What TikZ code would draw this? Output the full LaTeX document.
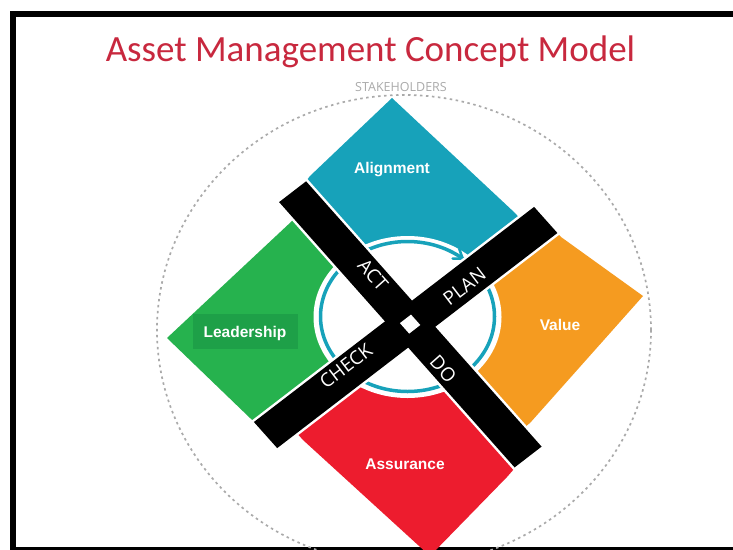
\documentclass[tikz,border=0pt]{standalone}
\usepackage{fontspec}
\setmainfont{Liberation Sans}
\newfontfamily\titlefont{Carlito}
\newfontfamily\barfont{Open Sans}

\definecolor{amteal}{RGB}{23,162,186}
\definecolor{amgreen}{RGB}{38,178,78}
\definecolor{amgreendark}{RGB}{30,160,72}
\definecolor{amorange}{RGB}{245,155,32}
\definecolor{amred}{RGB}{237,28,46}
\definecolor{amtitle}{RGB}{200,40,62}
\definecolor{amgray}{RGB}{170,170,170}

\begin{document}
\begin{tikzpicture}[x=1pt,y=-1pt,
  quadlabel/.style={text=white, font=\bfseries\fontsize{15.5}{18}\selectfont, inner sep=0pt},
  phase/.style={text=white, font=\barfont\fontsize{19}{22}\selectfont, inner sep=0pt},
  barborder/.style={draw=white, line width=5pt, line join=miter},
  ringline/.style={amteal, line width=3.5pt},
]
\useasboundingbox (0,0) rectangle (733,549);
\clip (0,0) rectangle (733,549);
\fill[white] (0,0) rectangle (733,549);

% outer frame: top, left and bottom sides only
\draw[black, line width=6pt, line join=miter] (733,14) -- (13,14) -- (13,549.5) -- (733,549.5);

% stakeholders ring
\draw[amgray, line width=1.7pt, dash pattern=on 2.5pt off 3.5pt] (404,330) ellipse [x radius=247, y radius=235];

% title and ring caption
\node[font=\titlefont\fontsize{37}{40}\selectfont, text=amtitle, anchor=base, inner sep=0pt] (title) at (370.5,61) {Asset Management Concept Model};
\node[font=\barfont\fontsize{12.5}{14}\selectfont, text=amgray, anchor=base, inner sep=0pt] (stake) at (401,91) {STAKEHOLDERS};

% four quadrant blocks
\fill[amteal]   (410.8,324.8) -- (528.5,228.2) -- (515,213) -- (392,98) -- (310,176) -- (298.6,190.9) -- cycle;
\fill[amorange] (410.8,324.8) -- (549.7,224.4) -- (561,237) -- (643,296) -- (530,423) -- (515.1,434.7) -- cycle;
\fill[amred]    (410.8,324.8) -- (289.1,424.5) -- (303,440) -- (430,556) -- (507,477) -- (523,458.7) -- cycle;
\fill[amgreen]  (410.8,324.8) -- (303.8,211.8) -- (292,221) -- (167,338) -- (250,418) -- (264.8,430.7) -- cycle;
\fill[amgreendark] (193,314) rectangle (298,349);

\node[quadlabel] (align) at (392,170) {Alignment};
\node[quadlabel] (value) at (560,325) {Value};
\node[quadlabel] (lead)  at (245,333) {Leadership};
\node[quadlabel] (assur) at (405,464) {Assurance};

% inner cycle ring
\fill[white] (407.5,317) ellipse [x radius=94, y radius=81];
\draw[ringline] (407.5,316.5) ellipse [x radius=87, y radius=75];
\draw[amteal, line width=2.5pt, line cap=round, line join=round] (459.3,249.1) -- (462.7,258.5) -- (452.7,258.5);

% PDCA cross
\path[barborder] (279.1,202.1) -- (306.1,181.3) -- (541.6,446.6) -- (514.6,467.4) -- cycle;
\path[barborder] (253.9,422.0) -- (534.1,206.9) -- (557.4,233.0) -- (277.2,448.1) -- cycle;
\fill[black] (279.1,202.1) -- (306.1,181.3) -- (541.6,446.6) -- (514.6,467.4) -- cycle;
\fill[black] (253.9,422.0) -- (534.1,206.9) -- (557.4,233.0) -- (277.2,448.1) -- cycle;
\fill[white] (409.2,333.6) -- (420.3,325.0) -- (411.0,314.6) -- (399.9,323.1) -- cycle;

\node[phase, rotate=-48.4] (act)   at (373.0,274.7) {ACT};
\node[phase, rotate=-48.4] (do)    at (443.3,368.9) {DO};
\node[phase, rotate=37.5]  (plan)  at (464.4,286.1) {PLAN};
\node[phase, rotate=37.5]  (check) at (345.9,365.9) {CHECK};
\end{tikzpicture}
\end{document}
